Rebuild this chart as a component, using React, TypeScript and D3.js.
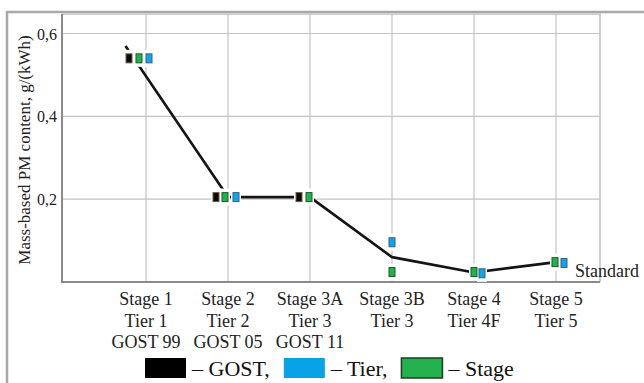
import React, { useEffect, useRef } from 'react';
import * as d3 from 'd3';

// x categories (one label line per entry)
const categories = [
  ['Stage 1', 'Tier 1', 'GOST 99'],
  ['Stage 2', 'Tier 2', 'GOST 05'],
  ['Stage 3A', 'Tier 3', 'GOST 11'],
  ['Stage 3B', 'Tier 3'],
  ['Stage 4', 'Tier 4F'],
  ['Stage 5', 'Tier 5'],
];

const yTicks = [0.2, 0.4, 0.6];

// PM limits per standard, g/(kWh); null = no value
const gostValues = [0.54, 0.205, 0.205, null, null, null];
const tierValues = [0.54, 0.205, null, 0.096, 0.021, 0.046];
const stageValues = [0.54, 0.205, 0.205, 0.024, 0.024, 0.048];

// "Standard" trend line (category index, value)
const standardLine = [
  { cat: -0.25, v: 0.57 },
  { cat: 1, v: 0.205 },
  { cat: 2, v: 0.205 },
  { cat: 3, v: 0.06 },
  { cat: 4, v: 0.023 },
  { cat: 5, v: 0.048 },
];

const W = 644;
const H = 383;

const App = () => {
  const svgRef = useRef<SVGSVGElement | null>(null);

  useEffect(() => {
    if (!svgRef.current) return;
    const svg = d3.select(svgRef.current);
    svg.selectAll('*').remove();

    const serif = '"Liberation Serif", "Times New Roman", serif';
    const plot = { left: 62, right: 600, top: 14, bottom: 282 };

    const x = d3.scaleLinear().domain([0, 5]).range([146, 556]);
    const y = d3.scaleLinear().domain([0, 0.6]).range([282, 33.5]);

    // outer frame
    svg.append('path')
      .attr('d', `M7,${H} V12 H${W}`)
      .attr('fill', 'none')
      .attr('stroke', '#a9a9a9')
      .attr('stroke-width', 2.5);

    // plot border (top/right)
    svg.append('path')
      .attr('d', `M${plot.left},${plot.top} H${plot.right} V${plot.bottom}`)
      .attr('fill', 'none')
      .attr('stroke', '#cfcfcf')
      .attr('stroke-width', 2);

    // grid
    const grid = svg.append('g').attr('stroke', '#c4c4c4').attr('stroke-width', 1.2);
    yTicks.forEach(t => {
      grid.append('line')
        .attr('x1', plot.left).attr('x2', plot.right)
        .attr('y1', y(t)).attr('y2', y(t));
    });
    categories.forEach((_, i) => {
      grid.append('line')
        .attr('x1', x(i)).attr('x2', x(i))
        .attr('y1', plot.top).attr('y2', plot.bottom);
    });

    // axes lines
    svg.append('path')
      .attr('d', `M${plot.left},${plot.top} V${plot.bottom} H${plot.right}`)
      .attr('fill', 'none')
      .attr('stroke', '#8a8a8a')
      .attr('stroke-width', 2);

    // y tick labels
    svg.append('g')
      .selectAll('text')
      .data(yTicks)
      .join('text')
      .attr('x', 57)
      .attr('y', d => y(d) + 6)
      .attr('text-anchor', 'end')
      .attr('font-family', serif)
      .attr('font-size', 16)
      .attr('fill', '#222')
      .text(d => d3.format('.1f')(d).replace('.', ','));

    // y title
    svg.append('text')
      .attr('transform', `translate(30,${(plot.top + plot.bottom) / 2 + 2}) rotate(-90)`)
      .attr('text-anchor', 'middle')
      .attr('font-family', serif)
      .attr('font-size', 17)
      .attr('fill', '#222')
      .text('Mass-based PM content, g/(kWh)');

    // x labels
    const xl = svg.append('g');
    categories.forEach((lines, i) => {
      lines.forEach((ln, j) => {
        xl.append('text')
          .attr('x', x(i))
          .attr('y', 305 + j * 21.5)
          .attr('text-anchor', 'middle')
          .attr('font-family', serif)
          .attr('font-size', 18)
          .attr('fill', '#222')
          .text(ln);
      });
    });

    // standard line
    const line = d3.line<{ cat: number; v: number }>()
      .x(d => x(d.cat))
      .y(d => y(d.v));
    svg.append('path')
      .datum(standardLine)
      .attr('d', line)
      .attr('fill', 'none')
      .attr('stroke', '#141414')
      .attr('stroke-width', 2.6)
      .attr('stroke-linejoin', 'round');

    svg.append('text')
      .attr('x', 575)
      .attr('y', 277)
      .attr('font-family', serif)
      .attr('font-size', 18)
      .attr('fill', '#222')
      .text('Standard');

    // markers: per-series colour and horizontal dodge (px) per category
    const series = [
      { values: gostValues, fill: '#0a0a0a', stroke: '#6b5a48', dodge: [-17, -12, -11, 0, 0, 0] },
      { values: stageValues, fill: '#22b14c', stroke: '#1a5c2a', dodge: [-7, -3, -1, 0, 0, -1] },
      { values: tierValues, fill: '#0ea5e9', stroke: '#3a5f80', dodge: [3, 8, 0, 0, 8, 8] },
    ];
    const mw = 6;
    const mh = 9;
    const halos = svg.append('g');
    const marks = svg.append('g');
    series.forEach(s => {
      s.values.forEach((v, i) => {
        if (v == null) return;
        const cx = x(i) + s.dodge[i];
        const cy = y(v);
        halos.append('rect')
          .attr('x', cx - mw / 2 - 2).attr('y', cy - mh / 2 - 4)
          .attr('width', mw + 4).attr('height', mh + 8)
          .attr('fill', '#fff');
        marks.append('rect')
          .attr('x', cx - mw / 2).attr('y', cy - mh / 2)
          .attr('width', mw).attr('height', mh)
          .attr('fill', s.fill)
          .attr('stroke', s.stroke)
          .attr('stroke-width', 1);
      });
    });

    // legend
    const legendItems = [
      { label: '– GOST,', fill: '#000', stroke: 'none' },
      { label: '– Tier,', fill: '#0aa2e6', stroke: 'none' },
      { label: '– Stage', fill: '#22b14c', stroke: '#1d3d22' },
    ];
    const lg = svg.append('g');
    let lx = 145;
    legendItems.forEach(item => {
      lg.append('rect')
        .attr('x', lx).attr('y', 358)
        .attr('width', 41).attr('height', 20)
        .attr('fill', item.fill)
        .attr('stroke', item.stroke)
        .attr('stroke-width', 1.5);
      const t = lg.append('text')
        .attr('x', lx + 47)
        .attr('y', 376)
        .attr('font-family', serif)
        .attr('font-size', 22)
        .attr('fill', '#111')
        .text(item.label);
      const tw = (t.node() as SVGTextElement).getComputedTextLength();
      lx += 47 + tw + 14;
    });
  }, []);

  return (
    <svg
      ref={svgRef}
      width={W}
      height={H}
      style={{ position: 'absolute', left: 0, top: 0, background: '#fff' }}
    />
  );
};

export default App;
